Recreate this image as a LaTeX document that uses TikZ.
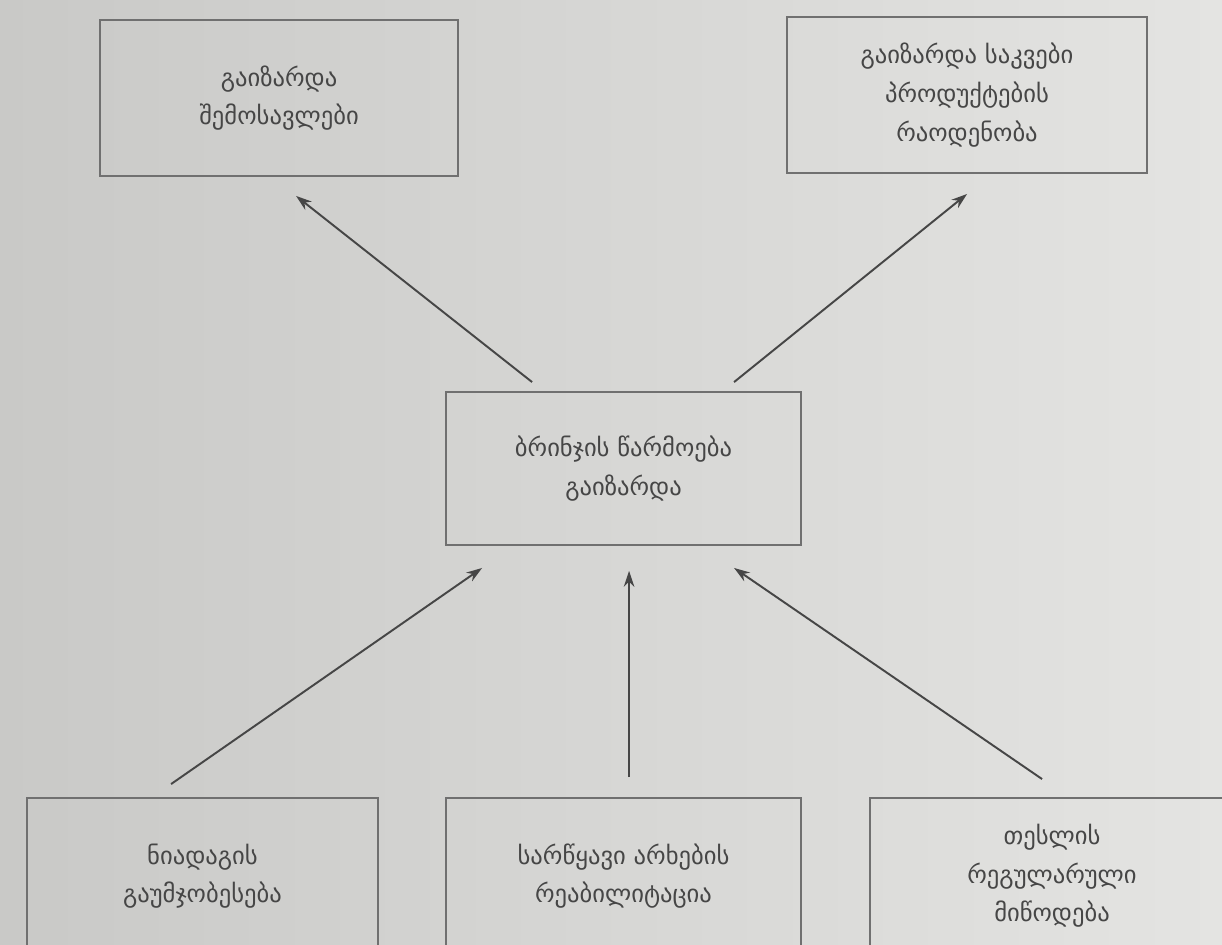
\documentclass[tikz,border=0pt]{standalone}
\usepackage{fontspec}
\setmainfont{DejaVu Sans}
\usepackage{tikz}
\usetikzlibrary{positioning, arrows.meta}
\definecolor{paperL}{RGB}{201,201,199}
\definecolor{paperR}{RGB}{228,228,226}
\definecolor{boxline}{RGB}{112,112,112}
\definecolor{ink}{RGB}{70,70,70}

\begin{document}
\begin{tikzpicture}[x=0.02cm,y=-0.02cm,
	blok/.style={draw=boxline, line width=1.1pt, align=center, text=ink,
		font=\fontsize{14}{22}\selectfont, inner sep=0pt},
	arr/.style={draw=ink, line width=1.1pt, -{Stealth[length=9pt,width=6pt]}}]
				\clip (0,0) rectangle (1222,944);
				\shade[left color=paperL, right color=paperR] (0,0) rectangle (1222,944);

				\node[blok, minimum width=7.16cm, minimum height=3.12cm] (G1) at (279,98) {გაიზარდა\\შემოსავლები};
				\node[blok, minimum width=7.2cm, minimum height=3.12cm] (G2) at (967,95) {გაიზარდა საკვები\\პროდუქტების\\რაოდენობა};
				\node[blok, minimum width=7.1cm, minimum height=3.06cm] (P) at (623.5,468.5) {ბრინჯის წარმოება\\გაიზარდა};
				\node[blok, minimum width=7.02cm, minimum height=3.12cm] (F1) at (202.5,876) {ნიადაგის\\გაუმჯობესება};
				\node[blok, minimum width=7.1cm, minimum height=3.12cm] (F2) at (623.5,876) {სარწყავი არხების\\რეაბილიტაცია};
				\node[blok, minimum width=7.28cm, minimum height=3.12cm] (F3) at (1052,876) {თესლის\\რეგულარული\\მიწოდება};

				\path
				([shift={(87,-9)}]P.north west) edge[arr] ([shift={(197,19)}]G1.south west)
				([shift={(289,-9)}]P.north west) edge[arr] ([shift={(181,20)}]G2.south west);

				\path
				([shift={(145,-13)}]F1.north west) edge[arr] ([shift={(37,22)}]P.south west)
				([shift={(184,-20)}]F2.north west) edge[arr] ([shift={(184,25)}]P.south west)
				([shift={(173,-18)}]F3.north west) edge[arr] ([shift={(289,22)}]P.south west);
			\end{tikzpicture}
\end{document}
